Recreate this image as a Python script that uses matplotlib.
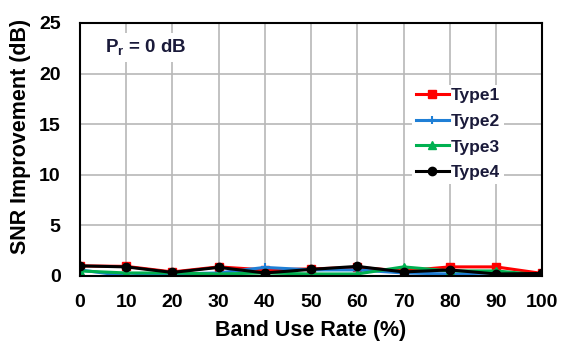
import numpy as np
import matplotlib
matplotlib.use('Agg')
import matplotlib.pyplot as plt

plt.rcParams['font.family'] = ['Liberation Sans', 'DejaVu Sans']
plt.rcParams['font.weight'] = 'bold'

# band use rate (%) and SNR improvement (dB) per scheme
rate = [0, 10, 20, 30, 40, 50, 60, 70, 80, 90, 100]
type1 = [1.0, 0.95, 0.4, 0.9, 0.6, 0.7, 0.85, 0.5, 0.9, 0.9, 0.25]
type2 = [0.6, 0.0, 0.2, 0.3, 0.85, 0.6, 0.6, 0.3, 0.2, 0.3, 0.1]
type3 = [0.5, 0.3, 0.3, 0.2, 0.3, 0.2, 0.2, 0.9, 0.5, 0.5, 0.1]
type4 = [1.0, 0.9, 0.35, 0.85, 0.3, 0.65, 0.95, 0.4, 0.6, 0.2, 0.25]

fig = plt.figure(figsize=(5.63, 3.42), dpi=100)
ax = fig.add_axes([0.142, 0.193, 0.821, 0.74])

ax.plot(rate, type1, '-s', c='#ff0000', lw=2.2, ms=6, label='Type1')
ax.plot(rate, type2, '-+', c='#1f7fd6', lw=2.2, ms=6, mew=1.5, label='Type2')
ax.plot(rate, type3, '-^', c='#00b050', lw=2.2, ms=6, label='Type3')
ax.plot(rate, type4, '-o', c='#000000', lw=2.2, ms=6, label='Type4')

ax.set_xlim(0, 100)
ax.set_ylim(0, 25)
ax.set_xticks(range(0, 101, 10))
ax.set_yticks(range(0, 26, 5))
ax.grid(True, color='#b8b8b8', lw=1.2)
ax.set_axisbelow(True)
ax.tick_params(length=0, labelsize=14)
ax.tick_params(axis='x', pad=13)
ax.tick_params(axis='y', pad=14)
for s in ax.spines.values():
    s.set_linewidth(1.5)

ax.set_xlabel('Band Use Rate (%)', fontsize=15.5, fontweight='bold')
ax.set_ylabel('SNR Improvement (dB)', fontsize=15.5, fontweight='bold')
ax.xaxis.set_label_coords(0.5, -0.172)
ax.yaxis.set_label_coords(-0.106, 0.551)

ax.text(5.5, 22.1, r'P$_\mathregular{r}$ = 0 dB', fontsize=13.5, fontweight='bold',
        color='#1a1a3a', bbox=dict(fc='white', ec='none', pad=3))

leg = ax.legend(loc='upper left', bbox_to_anchor=(0.7, 0.79), frameon=True,
                edgecolor='none', facecolor='white', framealpha=1,
                fontsize=12.5, handlelength=1.9, handletextpad=0.15,
                labelspacing=0.6, borderpad=0.2)
for t in leg.get_texts():
    t.set_color('#1a1a3a')

fig.savefig('out.png', dpi=100)
